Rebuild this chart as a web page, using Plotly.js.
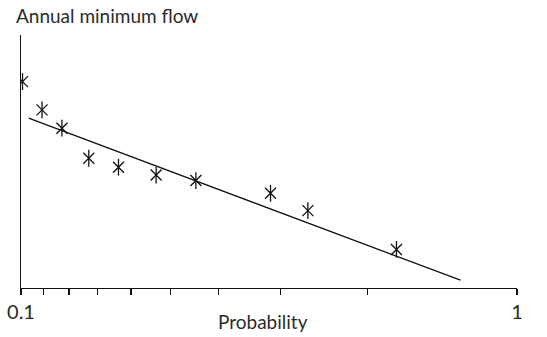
<!DOCTYPE html>
<html>
<head>
<meta charset="utf-8">
<script src="https://cdn.plot.ly/plotly-3.0.1.min.js"></script>
<style>html,body{margin:0;padding:0;background:#fff;}#chart{width:547px;height:337px;}</style>
</head>
<body>
<div id="chart"></div>
<script>
// Probability of each observed annual minimum flow
const probability = [0.107, 0.193, 0.273, 0.370, 0.464, 0.566, 0.656, 0.786, 0.836, 0.925];
// Annual minimum flow (arbitrary units, axis unlabelled)
const minFlow = [8.24, 7.11, 6.38, 5.18, 4.82, 4.51, 4.29, 3.78, 3.09, 1.54];
// Fitted straight line end points
const fitProbability = [0.135, 0.970];
const fitFlow = [6.78, 0.31];
// Tick positions and labels on the probability axis
const tickProbability = [0.1, 0.2, 0.3, 0.4, 0.5, 0.6, 0.7, 0.8, 0.9, 1.0];
const tickLabels = ['0.1', '', '', '', '', '', '', '', '', '1'];

// probability paper: axis is logarithmic in (1.1 - p), reversed
const toAxis = p => 1.1 - p;

const FONT = 'Lato, "Open Sans", sans-serif';
const TXT = '#2b2b2b';
const INK = '#111';

const traces = [
  {x: fitProbability.map(toAxis), y: fitFlow, mode: 'lines', line: {color: INK, width: 1.3}, hoverinfo: 'skip'},
  {x: probability.map(toAxis), y: minFlow, mode: 'markers',
   marker: {symbol: 'x-thin-open', size: 11, color: INK, line: {color: INK, width: 1.3}}},
  {x: probability.map(toAxis), y: minFlow, mode: 'markers',
   marker: {symbol: 'line-ns-open', size: 12, color: INK, line: {color: INK, width: 1.3}}}
];

const layout = {
  width: 547, height: 337,
  margin: {l: 21, r: 30, t: 35, b: 49},
  paper_bgcolor: '#fff', plot_bgcolor: '#fff',
  showlegend: false,
  font: {family: FONT, color: TXT},
  xaxis: {
    type: 'log', range: [0, -1],
    tickvals: tickProbability.map(toAxis), ticktext: tickLabels,
    ticks: 'outside', ticklen: 6, tickwidth: 1.2, tickcolor: INK,
    showline: true, linecolor: INK, linewidth: 1.2,
    showgrid: false, zeroline: false,
    tickfont: {family: FONT, size: 20, color: TXT}
  },
  yaxis: {
    range: [0, 10.1], showticklabels: false, ticks: '',
    showline: true, linecolor: INK, linewidth: 1.2,
    showgrid: false, zeroline: false
  },
  annotations: [{
    text: 'Annual minimum flow', xref: 'paper', yref: 'paper',
    x: -0.014, y: 1.078, xanchor: 'left', yanchor: 'middle', showarrow: false,
    font: {family: FONT, size: 19, color: TXT}
  }, {
    text: 'Probability', xref: 'paper', yref: 'paper',
    x: (263 - 21) / 496, y: -(321 - 288) / 253, xanchor: 'center', yanchor: 'middle', showarrow: false,
    font: {family: FONT, size: 19, color: TXT}
  }]
};

Plotly.newPlot('chart', traces, layout, {displayModeBar: false, staticPlot: true});
</script>
</body>
</html>
